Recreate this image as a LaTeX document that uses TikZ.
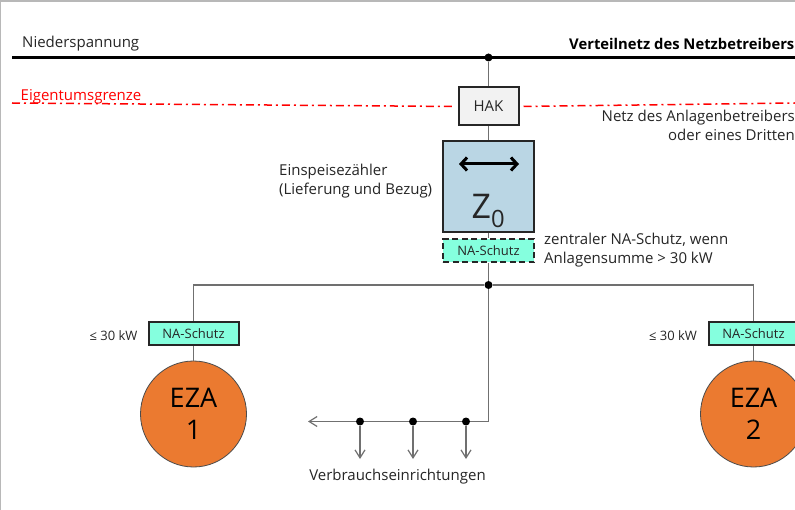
\documentclass[tikz,border=0pt]{standalone}
\usepackage{fontspec}
\setmainfont{Open Sans}
\usepackage{tikz}
\usetikzlibrary{arrows.meta}
\definecolor{zaehlerblau}{HTML}{BAD6E4}
\definecolor{schutzgruen}{HTML}{85FFDE}
\definecolor{ezaorange}{HTML}{EB7A30}
\definecolor{linegray}{HTML}{707070}
\definecolor{textgray}{HTML}{262626}
\tikzset{
	label/.style={font=\fontsize{15}{19}\selectfont, text=textgray, inner sep=0pt, align=left},
	netline/.style={line width=1.6pt, color=linegray},
	junc/.style={circle, fill=black, inner sep=0pt, minimum size=8pt},
	schutz/.style={draw=black!85, line width=2pt, fill=schutzgruen, inner sep=0pt, minimum width=90pt, minimum height=23pt, font=\fontsize{13}{15}\selectfont, text=textgray},
	eza/.style={circle, draw=black!70, line width=0.8pt, fill=ezaorange, inner sep=0pt, minimum size=106pt, align=center, font=\fontsize{27}{32}\selectfont, text=black},
	loadarrow/.style={netline, -{Straight Barb[length=8pt,width=10pt,line width=1.2pt]}}
}

\begin{document}
\begin{tikzpicture}[x=1pt, y=-1pt]
			%%%%% START %%%%%
			
			\clip (0, 0) rectangle (795, 510);
			\fill[white] (0, 0) rectangle (795, 510);
			\draw[line width=1.5pt, color=black!28] (0.7, 510) -- (0.7, 1.2) -- (795, 1.2);
			
			% boxes
			\node[draw=black!85, line width=2pt, fill=black!5, inner sep=0pt, minimum width=60pt, minimum height=38pt, font=\fontsize{15}{18}\selectfont, text=textgray] (hak) at (488.5, 106.5) {HAK};
			\node[draw=black!85, line width=2pt, fill=zaehlerblau, inner sep=0pt, minimum width=91pt, minimum height=91pt] (zaehler) at (488.5, 186.5) {};
			\node[schutz, dashed, dash pattern=on 6pt off 3.5pt, minimum width=91pt] (nazentral) at (488.5, 251) {NA-Schutz};
			\node[schutz] (naeins) at (193.5, 334) {NA-Schutz};
			\node[schutz] (nazwei) at (753.5, 334) {NA-Schutz};
			\node[eza] (eza1) at (193.5, 414) {EZA\\1};
			\node[eza] (eza2) at (753.5, 414) {EZA\\2};
			
			% junctions
			\node[junc] (jbus) at (488.5, 57.5) {};
			\node[junc] (jmain) at (488.5, 285) {};
			\node[junc] (jlast) at (466, 421.5) {};
			\node[junc] (jmid) at (413, 421.5) {};
			\node[junc] (jfirst) at (360, 421.5) {};
			
			% free ends
			\coordinate (busleft) at (12, 57.5);
			\coordinate (busright) at (795, 57.5);
			\coordinate (grenzeleft) at (12, 103);
			\coordinate (grenzeright) at (795, 103);
			\coordinate (loadend) at (308, 421.5);
			\coordinate (loadlast) at (466, 459);
			\coordinate (loadmid) at (413, 459);
			\coordinate (loadfirst) at (360, 459);
			\coordinate (pfeilleft) at (459, 164);
			\coordinate (pfeilright) at (519, 164);
			
			% lines
			\draw[line width=3pt, color=black] (busleft) -- (busright);
			\draw[line width=1.5pt, color=red, dash pattern=on 8pt off 4pt on 2pt off 4pt, shorten >=3pt] (grenzeleft) -- (hak.west);
			\draw[line width=1.5pt, color=red, dash pattern=on 8pt off 4pt on 2pt off 4pt, shorten <=4pt] (hak.east) -- (grenzeright);
			\draw[netline] (jbus) -- (hak);
			\draw[netline] (hak) -- (zaehler);
			\draw[netline] (zaehler) -- (nazentral);
			\draw[netline] (nazentral) -- (jmain);
			\draw[netline] (jmain) -| (naeins);
			\draw[netline] (jmain) -| (nazwei);
			\draw[netline] (naeins) -- (eza1);
			\draw[netline] (nazwei) -- (eza2);
			\draw[netline] (jmain) |- (jlast);
			\draw[netline] (jlast) -- (jmid);
			\draw[netline] (jmid) -- (jfirst);
			\draw[loadarrow] (jfirst) -- (loadend);
			\draw[loadarrow] (jlast) -- (loadlast);
			\draw[loadarrow] (jmid) -- (loadmid);
			\draw[loadarrow] (jfirst) -- (loadfirst);
			\draw[line width=3pt, color=black, {Straight Barb[length=6pt,width=13pt,line width=3pt]}-{Straight Barb[length=6pt,width=13pt,line width=3pt]}] (pfeilleft) -- (pfeilright);
			
			% texts
			\node[label, anchor=west] (niederspannung) at (22, 44) {Niederspannung};
			\node[label, anchor=east, text=black, font=\fontsize{14.8}{18}\selectfont\bfseries] (verteilnetz) at (794.5, 44) {Verteilnetz des Netzbetreibers};
			\node[label, anchor=west, text=red] (grenze) at (20.5, 97) {Eigentumsgrenze};
			\node[label, anchor=east, align=right] (anlagennetz) at (795, 125) {Netz des Anlagenbetreibers\\oder eines Dritten};
			\node[label, anchor=west] (einspeise) at (279, 181) {Einspeisezähler\\(Lieferung und Bezug)};
			\node[label, anchor=west] (zentral) at (544, 250) {zentraler NA-Schutz, wenn\\Anlagensumme > 30 kW};
			\node[label, anchor=center, font=\fontsize{13}{15}\selectfont] (leistungeins) at (113.5, 336) {≤ 30 kW};
			\node[label, anchor=center, font=\fontsize{13}{15}\selectfont] (leistungzwei) at (673, 336) {≤ 30 kW};
			\node[label, anchor=center] (verbrauch) at (397.5, 476.5) {Verbrauchseinrichtungen};
			\node[inner sep=0pt, text=textgray, font=\fontsize{34}{38}\selectfont] (zeichen) at (488.5, 211) {Z\textsubscript{0}};
			
			%%%%% END %%%%%
		\end{tikzpicture}
\end{document}
